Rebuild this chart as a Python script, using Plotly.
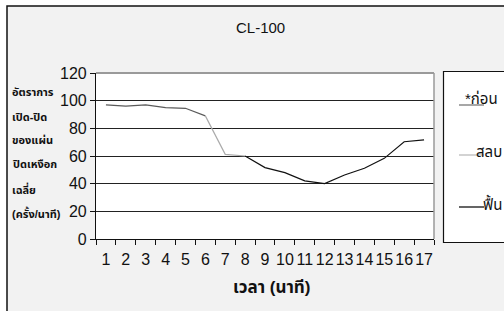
import plotly.graph_objects as go

# ---- data ----
minutes = [str(i) for i in range(1, 18)]
before_x = minutes[0:6]
before_y = [97, 96, 97, 95, 94.5, 89]
anesth_x = minutes[5:8]
anesth_y = [89, 61.2, 60]
recover_x = minutes[7:17]
recover_y = [60, 51.6, 48, 42, 40, 46.3, 51.1, 58.3, 70.3, 71.7]
legend_names = ["*ก่อน", "สลบ", "ฟื้น"]
y_title_lines = ["อัตราการ", "เปิด-ปิด", "ของแผ่น", "ปิดเหงือก", "เฉลี่ย", "(ครั้ง/นาที)"]
title_text = "CL-100"
x_title = "เวลา (นาที)"

W, H = 504, 311
L, R, T, B = 96, 434, 73, 239
FONT = "Liberation Sans, Arial, Noto Sans Thai, Noto Sans, DejaVu Sans, sans-serif"


def px(x):
    return (x - L) / (R - L)


def py(y):
    return (B - y) / (B - T)


fig = go.Figure()
fig.add_trace(go.Scatter(x=before_x, y=before_y, mode="lines",
                         line=dict(color="#5a5a5a", width=1.2), name=legend_names[0]))
fig.add_trace(go.Scatter(x=anesth_x, y=anesth_y, mode="lines",
                         line=dict(color="#ababab", width=1.2), name=legend_names[1]))
fig.add_trace(go.Scatter(x=recover_x, y=recover_y, mode="lines",
                         line=dict(color="#111111", width=1.2), name=legend_names[2]))

shapes = [
    # chart area background
    dict(type="rect", xref="paper", yref="paper", x0=px(7), x1=px(530), y0=py(6), y1=py(330),
         fillcolor="#f2f2f2", line=dict(color="#111", width=1.5), layer="below"),
    # plot area
    dict(type="rect", xref="paper", yref="paper", x0=0, x1=1, y0=0, y1=1,
         fillcolor="white", line=dict(width=0), layer="below"),
    # plot top / right grey border
    dict(type="line", xref="paper", yref="paper", x0=0, x1=1, y0=1, y1=1,
         line=dict(color="#9a9a9a", width=2)),
    dict(type="line", xref="paper", yref="paper", x0=1, x1=1, y0=0, y1=1,
         line=dict(color="#9a9a9a", width=1.5)),
    # legend box
    dict(type="rect", xref="paper", yref="paper", x0=px(443.5), x1=px(530), y0=py(71.5), y1=py(242.5),
         fillcolor="white", line=dict(color="#111", width=1.2), layer="below"),
]
leg_line_y = [105, 155, 207]
leg_text_y = [98, 151, 203]
leg_text_x = [463, 474, 481]
leg_colors = ["#777777", "#bbbbbb", "#111111"]
annotations = []
for name, ly, ty, tx, c in zip(legend_names, leg_line_y, leg_text_y, leg_text_x, leg_colors):
    shapes.append(dict(type="line", xref="paper", yref="paper", x0=px(459), x1=px(484),
                       y0=py(ly), y1=py(ly), line=dict(color=c, width=1.3)))
    annotations.append(dict(text=name, xref="paper", yref="paper", x=px(tx), y=py(ty),
                            xanchor="left", yanchor="middle", showarrow=False,
                            font=dict(size=15, color="#111", family=FONT)))

line_y = [92, 117, 140, 164, 189, 213]
for t, ly in zip(y_title_lines, line_y):
    annotations.append(dict(text="<b>" + t + "</b>", xref="paper", yref="paper", x=px(10), y=py(ly),
                            xanchor="left", yanchor="middle", showarrow=False,
                            font=dict(size=11, color="#111", family=FONT)))

annotations.append(dict(text=title_text, xref="paper", yref="paper", x=px(260), y=py(27),
                        xanchor="center", yanchor="middle", showarrow=False,
                        font=dict(size=15, color="#111", family=FONT)))
annotations.append(dict(text="<b>" + x_title + "</b>", xref="paper", yref="paper", x=px(271), y=py(287),
                        xanchor="center", yanchor="middle", showarrow=False,
                        font=dict(size=17, color="#111", family=FONT)))

fig.update_layout(
    width=W, height=H,
    margin=dict(l=L, r=W - R, t=T, b=H - B, pad=0, autoexpand=False),
    paper_bgcolor="white", plot_bgcolor="rgba(0,0,0,0)",
    showlegend=False,
    shapes=shapes, annotations=annotations,
    font=dict(family=FONT, color="#111"),
)
fig.update_xaxes(type="category", categoryorder="array", categoryarray=minutes,
                 range=[-0.5, 16.5], tickson="boundaries", ticks="outside", ticklen=5,
                 tickcolor="#111", showline=True, linecolor="#111", linewidth=1.2,
                 showgrid=False, tickangle=0, automargin=False,
                 tickfont=dict(size=16, color="#111"), ticklabelstandoff=6)
fig.update_yaxes(range=[0, 120], dtick=20, ticks="outside", ticklen=5, tickcolor="#111",
                 showline=True, linecolor="#111", linewidth=1.2, automargin=False,
                 showgrid=True, gridcolor="#222", gridwidth=1.2, zeroline=False,
                 tickfont=dict(size=16, color="#111"))

fig.write_html("out.html", config={"displayModeBar": False},
               post_script="document.body.style.margin='0';document.body.style.overflow='hidden';")
